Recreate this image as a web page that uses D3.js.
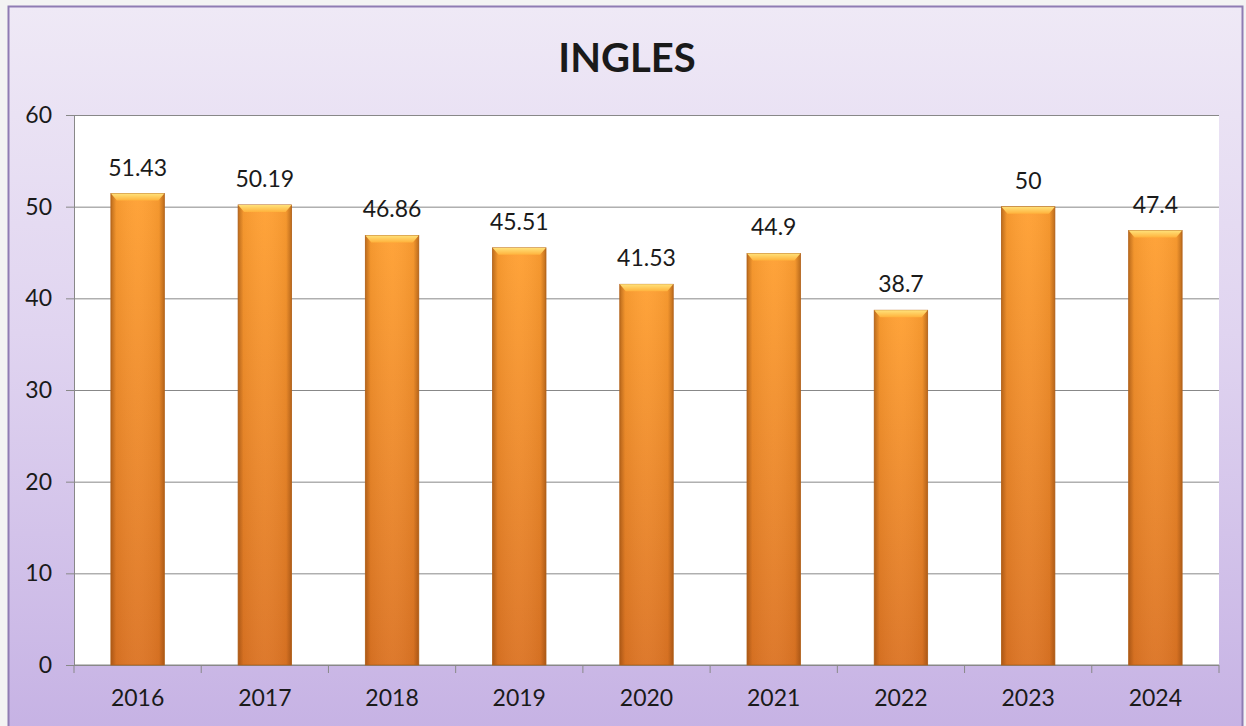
<html>
<head>
<script src="https://cdn.jsdelivr.net/npm/d3@7"></script>
<style>
  body { margin: 0; background: #f3f3f3; }
  text { font-family: Lato, "Open Sans", sans-serif; fill: #1a1a1a; }
</style>
</head>
<body>
<svg id="chart" width="1246" height="726"></svg>
<script>
const years = ["2016", "2017", "2018", "2019", "2020", "2021", "2022", "2023", "2024"];
const scores = [51.43, 50.19, 46.86, 45.51, 41.53, 44.9, 38.7, 50, 47.4];
const scoreLabels = ["51.43", "50.19", "46.86", "45.51", "41.53", "44.9", "38.7", "50", "47.4"];
const yTicks = [0, 10, 20, 30, 40, 50, 60];

const svg = d3.select("#chart");
const margin = { top: 115, right: 27, bottom: 61, left: 74 };
const width = +svg.attr("width");
const height = +svg.attr("height");
const chartWidth = width - margin.left - margin.right;
const chartHeight = height - margin.top - margin.bottom;

const defs = svg.append("defs");

// chart background gradient (light lavender to purple)
const bg = defs.append("linearGradient").attr("id", "bg").attr("x1", 0).attr("y1", 0).attr("x2", 0).attr("y2", 1);
bg.append("stop").attr("offset", "0%").attr("stop-color", "#efe9f6");
bg.append("stop").attr("offset", "45%").attr("stop-color", "#e0d4f0");
bg.append("stop").attr("offset", "100%").attr("stop-color", "#c6b2e4");

// bar body: vertical gradient
const barV = defs.append("linearGradient").attr("id", "barV").attr("x1", 0).attr("y1", 0).attr("x2", 0).attr("y2", 1);
barV.append("stop").attr("offset", "0%").attr("stop-color", "#ffa032");
barV.append("stop").attr("offset", "100%").attr("stop-color", "#dc7424");

// bar edges: horizontal shading
const barH = defs.append("linearGradient").attr("id", "barH").attr("x1", 0).attr("y1", 0).attr("x2", 1).attr("y2", 0);
barH.append("stop").attr("offset", "0%").attr("stop-color", "#7a3a08").attr("stop-opacity", 0.5);
barH.append("stop").attr("offset", "10%").attr("stop-color", "#7a3a08").attr("stop-opacity", 0.08);
barH.append("stop").attr("offset", "50%").attr("stop-color", "#ffffff").attr("stop-opacity", 0.04);
barH.append("stop").attr("offset", "90%").attr("stop-color", "#7a3a08").attr("stop-opacity", 0.08);
barH.append("stop").attr("offset", "100%").attr("stop-color", "#7a3a08").attr("stop-opacity", 0.5);

// bar cap
const cap = defs.append("linearGradient").attr("id", "cap").attr("x1", 0).attr("y1", 0).attr("x2", 0).attr("y2", 1);
cap.append("stop").attr("offset", "0%").attr("stop-color", "#ffe27a");
cap.append("stop").attr("offset", "100%").attr("stop-color", "#ffb23c");

svg.append("rect")
  .attr("x", 8.5).attr("y", 6.5)
  .attr("width", width - 12).attr("height", height)
  .attr("fill", "url(#bg)")
  .attr("stroke", "#8f7cb3").attr("stroke-width", 2);

// Title
svg.append("text")
  .attr("x", 627).attr("y", 72)
  .attr("text-anchor", "middle")
  .style("font-size", "40px").style("font-weight", "bold")
  .text("INGLES");

// Scales
const x = d3.scaleBand().domain(years).range([0, chartWidth]).paddingInner(0.58).paddingOuter(0.29);
const y = d3.scaleLinear().domain([0, 60]).range([chartHeight, 0]);

const chart = svg.append("g").attr("transform", `translate(${margin.left}, ${margin.top})`);

chart.append("rect")
  .attr("width", chartWidth).attr("height", chartHeight)
  .attr("fill", "#ffffff");

// gridlines
chart.append("g").attr("class", "gridlines")
  .call(d3.axisLeft(y).tickValues(yTicks).tickSize(-chartWidth).tickFormat(""))
  .call(g => g.select(".domain").remove())
  .call(g => g.selectAll("line").attr("stroke", "#888888").attr("stroke-width", 1));

// y axis
chart.append("g")
  .call(d3.axisLeft(y).tickValues(yTicks).tickSize(8).tickPadding(14))
  .call(g => g.select(".domain").attr("stroke", "#888888"))
  .call(g => g.selectAll(".tick line").attr("stroke", "#888888"))
  .call(g => g.selectAll(".tick text").style("font-size", "23px").attr("fill", "#1a1a1a").attr("font-family", "Lato, 'Open Sans', sans-serif"));

// x axis with ticks between categories
const xAxis = chart.append("g").attr("transform", `translate(0, ${chartHeight})`);
xAxis.append("line").attr("x1", 0).attr("x2", chartWidth).attr("stroke", "#888888");
const boundaries = d3.range(years.length + 1).map(i => i * chartWidth / years.length);
xAxis.selectAll(".sep").data(boundaries).join("line")
  .attr("x1", d => d).attr("x2", d => d).attr("y1", 0).attr("y2", 8)
  .attr("stroke", "#888888");
xAxis.selectAll(".lbl").data(years).join("text")
  .attr("x", d => x(d) + x.bandwidth() / 2)
  .attr("y", 41)
  .attr("text-anchor", "middle")
  .style("font-size", "23px")
  .text(d => d);

const data = years.map((yr, i) => ({ year: yr, value: scores[i], label: scoreLabels[i] }));

const bars = chart.selectAll(".bar").data(data).join("g").attr("class", "bar");

bars.append("rect")
  .attr("x", d => x(d.year)).attr("y", d => y(d.value))
  .attr("width", x.bandwidth()).attr("height", d => chartHeight - y(d.value))
  .attr("fill", "url(#barV)");
bars.append("rect")
  .attr("x", d => x(d.year)).attr("y", d => y(d.value))
  .attr("width", x.bandwidth()).attr("height", d => chartHeight - y(d.value))
  .attr("fill", "url(#barH)")
  .attr("stroke", "#b0601a").attr("stroke-width", 0.8);
// bevelled top cap
bars.append("path")
  .attr("d", d => {
    const x0 = x(d.year), x1 = x0 + x.bandwidth(), t = y(d.value);
    return `M${x0},${t} L${x1},${t} L${x1 - 6},${t + 7} L${x0 + 6},${t + 7} Z`;
  })
  .attr("fill", "url(#cap)");

bars.append("text")
  .attr("x", d => x(d.year) + x.bandwidth() / 2)
  .attr("y", d => y(d.value) - 18)
  .attr("text-anchor", "middle")
  .style("font-size", "23px")
  .text(d => d.label);
</script>
</body>
</html>
